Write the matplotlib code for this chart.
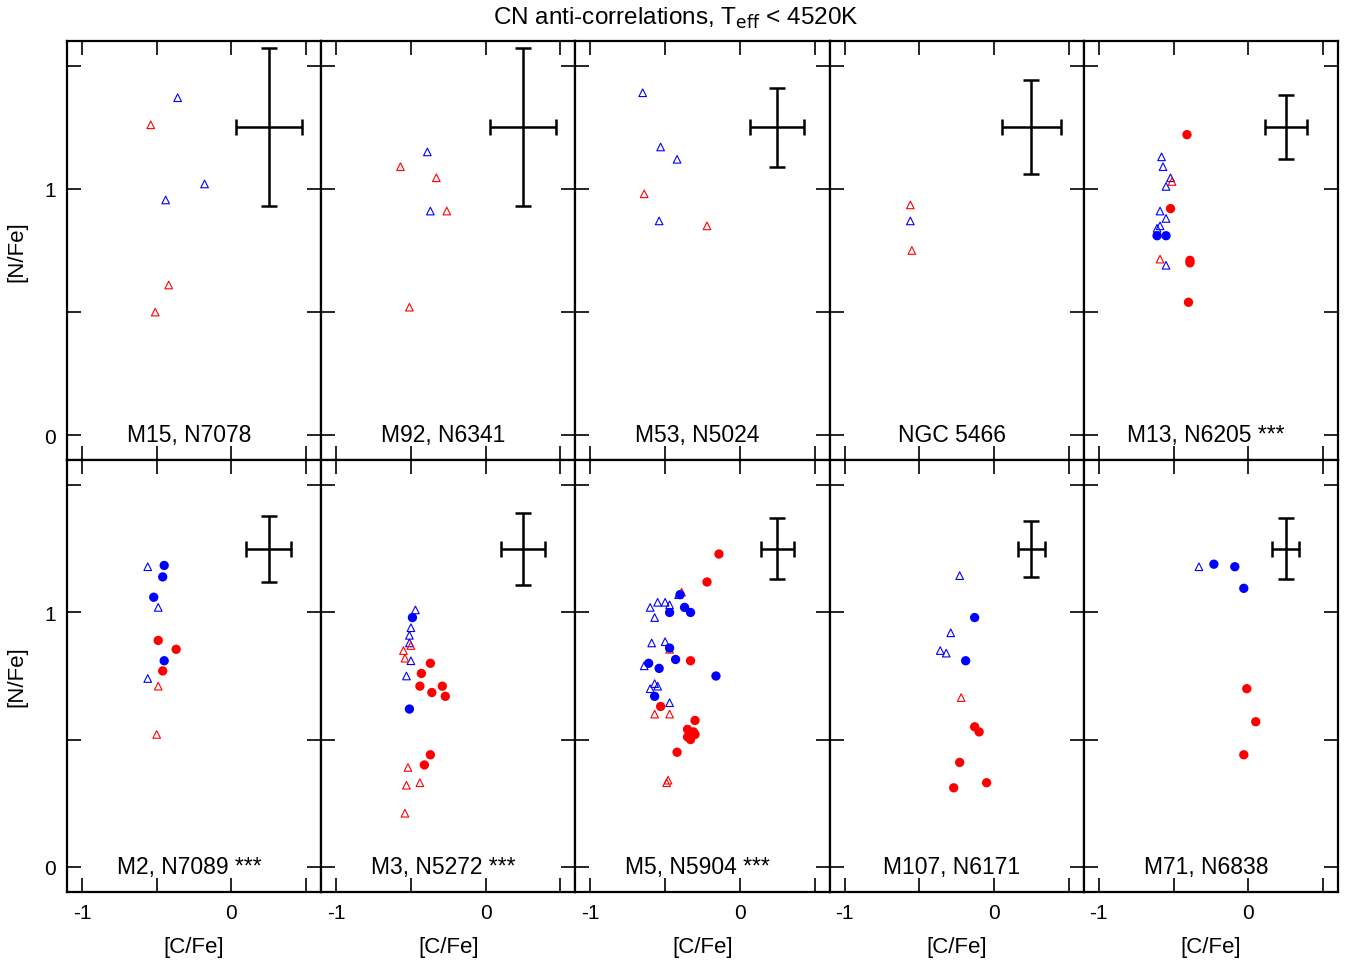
import numpy as np
import matplotlib.pyplot as plt
from matplotlib.ticker import FuncFormatter

plt.rcParams['font.family'] = ['Liberation Sans', 'DejaVu Sans']

names = ["M15, N7078", "M92, N6341", "M53, N5024", "NGC 5466", "M13, N6205 ***",
         "M2, N7089 ***", "M3, N5272 ***", "M5, N5904 ***", "M107, N6171", "M71, N6838"]

# error bars per panel: (x err, y err), centred at (0.25, 1.25)
err_x = [0.22, 0.22, 0.18, 0.20, 0.14, 0.15, 0.15, 0.11, 0.09, 0.09]
err_y = [0.32, 0.32, 0.16, 0.19, 0.13, 0.13, 0.14, 0.12, 0.11, 0.12]

# blue triangles
bt = [
    [(-0.36, 1.37), (-0.18, 1.02), (-0.44, 0.955)],
    [(-0.39, 1.15), (-0.37, 0.91)],
    [(-0.65, 1.39), (-0.53, 1.17), (-0.42, 1.12), (-0.54, 0.87)],
    [(-0.56, 0.87)],
    [(-0.58, 1.13), (-0.57, 1.09), (-0.52, 1.045), (-0.55, 1.01), (-0.59, 0.91),
     (-0.59, 0.85), (-0.61, 0.84), (-0.55, 0.88), (-0.55, 0.69)],
    [(-0.56, 1.18), (-0.49, 1.02), (-0.56, 0.74)],
    [(-0.47, 1.01), (-0.50, 0.94), (-0.51, 0.91), (-0.51, 0.88), (-0.50, 0.81), (-0.53, 0.75)],
    [(-0.60, 1.02), (-0.55, 1.04), (-0.50, 1.04), (-0.57, 0.98), (-0.47, 1.03), (-0.59, 0.88),
     (-0.50, 0.885), (-0.64, 0.79), (-0.57, 0.72), (-0.60, 0.70), (-0.55, 0.71), (-0.47, 0.645),
     (-0.41, 1.07)],
    [(-0.23, 1.145), (-0.29, 0.92), (-0.36, 0.85), (-0.32, 0.84)],
    [(-0.33, 1.18)],
]
# red triangles
rt = [
    [(-0.54, 1.26), (-0.42, 0.61), (-0.51, 0.50)],
    [(-0.57, 1.09), (-0.33, 1.045), (-0.26, 0.91), (-0.51, 0.52)],
    [(-0.64, 0.98), (-0.22, 0.85)],
    [(-0.56, 0.935), (-0.55, 0.75)],
    [(-0.51, 1.03), (-0.59, 0.715)],
    [(-0.49, 0.71), (-0.50, 0.52)],
    [(-0.55, 0.85), (-0.54, 0.82), (-0.50, 0.87), (-0.52, 0.39), (-0.53, 0.32),
     (-0.44, 0.33), (-0.54, 0.21)],
    [(-0.47, 0.855), (-0.39, 1.08), (-0.57, 0.60), (-0.47, 0.60), (-0.48, 0.34), (-0.49, 0.33)],
    [(-0.22, 0.665)],
    [],
]
# blue dots
bd = [
    [], [], [], [],
    [(-0.61, 0.81), (-0.55, 0.81)],
    [(-0.45, 1.185), (-0.46, 1.14), (-0.52, 1.06), (-0.45, 0.81)],
    [(-0.49, 0.98), (-0.51, 0.62)],
    [(-0.61, 0.80), (-0.54, 0.78), (-0.47, 1.00), (-0.37, 1.02), (-0.33, 1.00), (-0.47, 0.86),
     (-0.43, 0.815), (-0.40, 1.07), (-0.16, 0.75), (-0.57, 0.67)],
    [(-0.13, 0.98), (-0.19, 0.81)],
    [(-0.23, 1.19), (-0.09, 1.18), (-0.03, 1.095)],
]
# red dots
rd = [
    [], [], [], [],
    [(-0.41, 1.22), (-0.52, 0.92), (-0.39, 0.71), (-0.39, 0.70), (-0.40, 0.54)],
    [(-0.49, 0.89), (-0.37, 0.855), (-0.46, 0.77)],
    [(-0.37, 0.80), (-0.43, 0.76), (-0.29, 0.71), (-0.44, 0.71), (-0.36, 0.685),
     (-0.27, 0.67), (-0.37, 0.44), (-0.41, 0.40)],
    [(-0.14, 1.23), (-0.22, 1.12), (-0.33, 0.81), (-0.53, 0.63), (-0.30, 0.575), (-0.35, 0.54),
     (-0.31, 0.53), (-0.35, 0.51), (-0.33, 0.50), (-0.30, 0.52), (-0.42, 0.45)],
    [(-0.13, 0.55), (-0.10, 0.53), (-0.23, 0.41), (-0.05, 0.33), (-0.27, 0.31)],
    [(-0.01, 0.70), (0.05, 0.57), (-0.03, 0.44)],
]

W, H = 1351, 962
fig = plt.figure(figsize=(W / 100, H / 100), dpi=100)
x0, x1 = 67, 1338
pw = (x1 - x0) / 5
rows = [(42, 461), (461, 893)]
fmt = FuncFormatter(lambda v, p: "%d" % v if abs(v - round(v)) < 1e-6 else "")

def xy(pts):
    a = np.array(pts).reshape(-1, 2)
    return a[:, 0], a[:, 1]

for i in range(10):
    r, c = divmod(i, 5)
    top, bot = rows[r]
    ax = fig.add_axes([(x0 + c * pw) / W, 1 - bot / H, pw / W, (bot - top) / H])
    ax.set_xlim(-1.1, 0.6)
    ax.set_ylim(-0.1, 1.6)
    ax.set_xticks([-1, -0.5, 0, 0.5])
    ax.set_yticks([0, 0.5, 1, 1.5])
    ax.xaxis.set_major_formatter(fmt)
    ax.yaxis.set_major_formatter(fmt)
    ax.tick_params(direction='in', length=10, width=1.2, top=True, right=True,
                   labelsize=15, pad=8)
    if c != 0:
        ax.set_yticklabels([])
    else:
        ax.set_ylabel("[N/Fe]", fontsize=16, labelpad=12)
    if r == 0:
        ax.set_xticklabels([])
    else:
        ax.set_xlabel("[C/Fe]", fontsize=16, labelpad=10)
    for s in ax.spines.values():
        s.set_linewidth(1.6)
    x, y = xy(bt[i])
    ax.scatter(x, y, marker='^', s=30, facecolors='none', edgecolors='blue', linewidths=0.8)
    x, y = xy(rt[i])
    ax.scatter(x, y, marker='^', s=30, facecolors='none', edgecolors='red', linewidths=0.8)
    x, y = xy(bd[i])
    ax.scatter(x, y, marker='o', s=45, color='blue', edgecolors='none')
    x, y = xy(rd[i])
    ax.scatter(x, y, marker='o', s=45, color='red', edgecolors='none')
    ax.errorbar([0.25], [1.25], xerr=[err_x[i]], yerr=[err_y[i]], color='black',
                elinewidth=1.8, capsize=6, capthick=1.8, fmt='none')
    ax.text(0.48, 0.06, names[i], transform=ax.transAxes, ha='center', va='center',
            fontsize=16.5)

fig.text(0.5, 1 - 18 / H, r"CN anti-correlations, T$_{\mathrm{eff}}$ < 4520K",
         ha='center', va='center', fontsize=17.5)
fig.savefig("out.png", dpi=100)
